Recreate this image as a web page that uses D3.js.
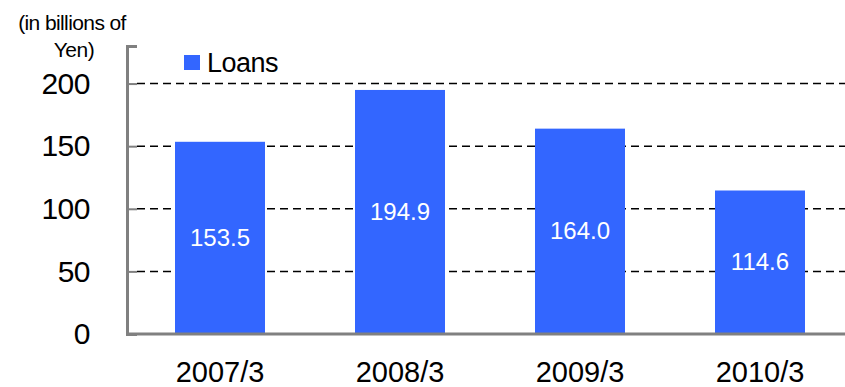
<!DOCTYPE html>
<html>
<head>
<meta charset="utf-8">
<script src="https://cdn.jsdelivr.net/npm/d3@7"></script>
<style>
  body { margin: 0; background: #fff; }
  text { font-family: "Liberation Sans", Arial, sans-serif; }
</style>
</head>
<body>
<script>
// chart data
var years = ["2007/3", "2008/3", "2009/3", "2010/3"];
var loans = [153.5, 194.9, 164.0, 114.6];
var yTicks = [0, 50, 100, 150, 200];

var width = 845;
var height = 387;
var margin = {top: 46, right: 0, bottom: 53, left: 127};

var svg = d3.select("body")
            .append("svg")
            .attr("width", width)
            .attr("height", height);

var x = d3.scaleBand()
          .domain(years)
          .range([130, 850])
          .paddingInner(0.5)
          .paddingOuter(0.25);

var y = d3.scaleLinear()
          .domain([0, 230])
          .range([height - margin.bottom, margin.top]);

// dashed gridlines
svg.selectAll("line.grid")
    .data(yTicks.slice(1))
    .enter()
    .append("line")
    .attr("class", "grid")
    .attr("x1", margin.left + 10)
    .attr("x2", width)
    .attr("y1", function(d) { return y(d); })
    .attr("y2", function(d) { return y(d); })
    .style("stroke", "#000")
    .style("stroke-width", 1.5)
    .style("stroke-dasharray", "8,5");

// bars
svg.selectAll("rect.bar")
    .data(loans)
    .enter()
    .append("rect")
    .attr("class", "bar")
    .attr("x", function(d, i) { return x(years[i]); })
    .attr("y", function(d) { return y(d); })
    .attr("width", x.bandwidth())
    .attr("height", function(d) { return y(0) - y(d); })
    .style("fill", "#3366ff");

// value labels inside the bars
svg.selectAll("text.val")
    .data(loans)
    .enter()
    .append("text")
    .attr("class", "val")
    .attr("x", function(d, i) { return x(years[i]) + x.bandwidth() / 2; })
    .attr("y", function(d) { return (y(d) + y(0)) / 2 + 8; })
    .attr("text-anchor", "middle")
    .style("font-size", "24px")
    .style("fill", "#fff")
    .text(function(d) { return d.toFixed(1); });

// y axis
var yAxis = d3.axisLeft(y)
              .tickValues(yTicks)
              .tickSize(-10)
              .tickPadding(37);
var gy = svg.append("g")
    .attr("transform", "translate(" + margin.left + ",0)")
    .call(yAxis);
gy.select(".domain").style("stroke", "#808080").style("stroke-width", 3);
gy.selectAll(".tick line").style("stroke", "#808080").style("stroke-width", 2);
gy.selectAll(".tick text").style("font-size", "30px").style("fill", "#000")
    .style("letter-spacing", "-0.5px");

// x axis
var xAxis = d3.axisBottom(x).tickSize(0).tickPadding(27);
var gx = svg.append("g")
    .attr("transform", "translate(0," + y(0) + ")")
    .call(xAxis);
gx.select(".domain").attr("d", "M" + margin.left + ",0H" + width)
    .style("stroke", "#808080").style("stroke-width", 3);
gx.selectAll(".tick text").style("font-size", "29px").style("fill", "#000")
    .attr("dy", "0.71em");

// unit label
svg.append("text")
    .attr("x", 72)
    .attr("y", 30)
    .attr("text-anchor", "middle")
    .style("font-size", "21px")
    .style("letter-spacing", "-0.6px")
    .text("(in billions of");
svg.append("text")
    .attr("x", 74)
    .attr("y", 57)
    .attr("text-anchor", "middle")
    .style("font-size", "21px")
    .style("letter-spacing", "-0.5px")
    .text("Yen)");

// legend
svg.append("rect")
    .attr("x", 184)
    .attr("y", 55)
    .attr("width", 16)
    .attr("height", 15)
    .style("fill", "#3366ff");
svg.append("text")
    .attr("x", 207)
    .attr("y", 72)
    .style("font-size", "27px")
    .style("letter-spacing", "-0.5px")
    .text("Loans");
</script>
</body>
</html>
